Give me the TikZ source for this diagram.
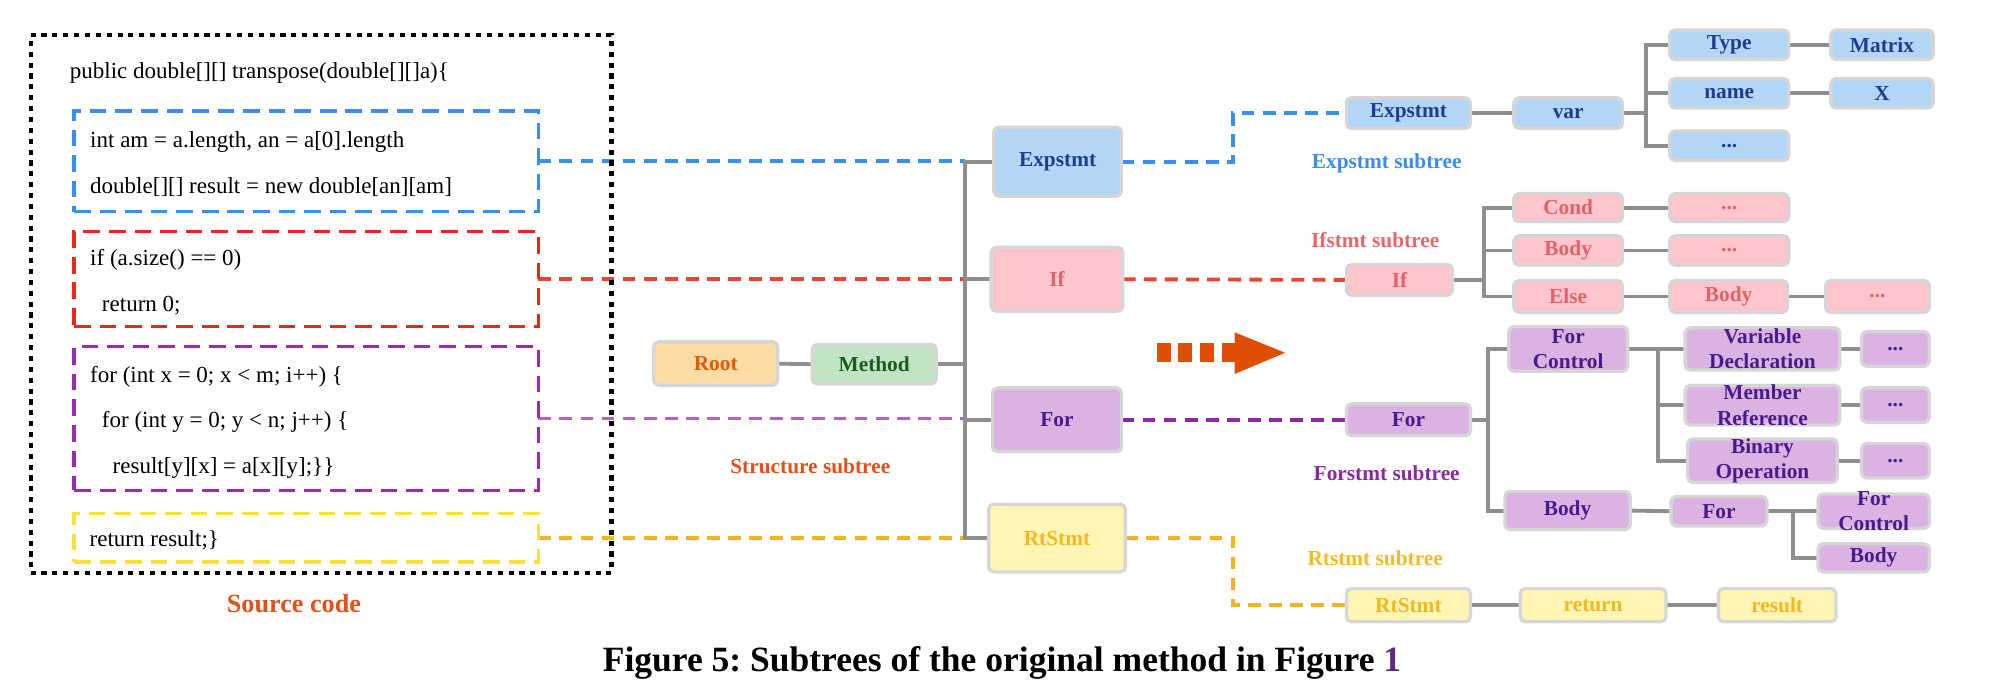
\documentclass[tikz,border=0pt]{standalone}
\usepackage{fontspec}
\setmainfont{Liberation Serif}
\frenchspacing
\pgfdeclarelayer{bg}
\pgfsetlayers{bg,main}
\definecolor{blueF}{HTML}{B3D6F7}
\definecolor{blueT}{HTML}{1F3D8F}
\definecolor{pinkF}{HTML}{FFC5CC}
\definecolor{pinkT}{HTML}{E0636A}
\definecolor{purF}{HTML}{DBB3E3}
\definecolor{purT}{HTML}{4A1A8A}
\definecolor{yelF}{HTML}{FFF5B5}
\definecolor{yelT}{HTML}{F5B820}
\definecolor{rootF}{HTML}{FFDBA6}
\definecolor{rootT}{HTML}{E35A05}
\definecolor{methF}{HTML}{C2E3C4}
\definecolor{methT}{HTML}{1E5A23}
\definecolor{bordGray}{HTML}{D6D6D6}
\definecolor{lineGray}{HTML}{8E8E8E}
\definecolor{codeBlue}{HTML}{3A8EEA}
\definecolor{codeRed}{HTML}{F0261A}
\definecolor{codePur}{HTML}{9A2DAC}
\definecolor{codeYel}{HTML}{F6E33A}
\definecolor{connRed}{HTML}{EA4530}
\definecolor{connPurL}{HTML}{B462C6}
\definecolor{connPurR}{HTML}{8E27A6}
\definecolor{connYel}{HTML}{F4B420}
\definecolor{arrowC}{HTML}{E04E05}
\definecolor{srcC}{HTML}{E4501A}
\definecolor{subBlue}{HTML}{3A8EEA}
\definecolor{subRed}{HTML}{E8676B}
\definecolor{subPur}{HTML}{8E27A6}
\definecolor{subYel}{HTML}{F6BA23}
\definecolor{capPur}{HTML}{5C2A7E}
\newcommand\nodefnt{\fontsize{16.7}{20}\selectfont\bfseries}
\newcommand\codefnt{\fontsize{18}{21}\selectfont}
\newcommand\srcfnt{\fontsize{20.5}{24}\selectfont\bfseries}
\newcommand\capfnt{\fontsize{27.8}{32}\selectfont\bfseries\frenchspacing}
\tikzset{
  tn/.style={draw=bordGray, line width=2.6pt, rounded corners=4pt, inner sep=0pt, outer sep=0pt, align=center, font=\nodefnt},
  bluen/.style={tn, fill=blueF, text=blueT},
  pinkn/.style={tn, fill=pinkF, text=pinkT},
  purn/.style={tn, fill=purF, text=purT},
  yeln/.style={tn, fill=yelF, text=yelT},
  rootn/.style={tn, fill=rootF, text=rootT},
  methn/.style={tn, fill=methF, text=methT},
  ntext/.style={inner sep=0pt, align=center, font=\nodefnt},
  gl/.style={draw=lineGray, line width=3pt},
  cdash/.style={line width=3pt, dash pattern=on 10pt off 6.5pt},
  cbox/.style={draw=#1, line width=2.6pt, dash pattern=on 13pt off 7pt, inner sep=0pt, outer sep=0pt},
  codet/.style={anchor=west, inner sep=0pt, font=\codefnt},
  lbl/.style={inner sep=0pt, font=\nodefnt},
}
\begin{document}
\begin{tikzpicture}[x=1pt, y=-1pt]
\useasboundingbox (0,0) rectangle (1568,543);
% source code
\node[draw=black, line width=3.2pt, dash pattern=on 4pt off 4.5pt, inner sep=0pt, outer sep=0pt, minimum width=454.5, minimum height=421] (src) at (251.2,238) {};
\node[codet] (c0) at (54.5,57) {public double[][] transpose(double[][]a)\{};
\node[cbox=codeBlue, minimum width=363.2, minimum height=78.9] (cbb) at (239.6,126.25) {};
\node[codet] (c1) at (70.4,111) {int am = a.length, an = a[0].length};
\node[codet] (c2) at (70.4,146) {double[][] result = new double[an][am]};
\node[cbox=codeRed, minimum width=363.2, minimum height=73.9] (cbr) at (239.6,218.25) {};
\node[codet] (c3) at (70.4,203.5) {if (a.size() == 0)};
\node[codet] (c4) at (79.6,239) {return 0;};
\node[cbox=codePur, minimum width=363.2, minimum height=112.4] (cbp) at (239.6,327.5) {};
\node[codet] (c5) at (70.4,295) {for (int x = 0; x < m; i++) \{};
\node[codet] (c6) at (79.6,330) {for (int y = 0; y < n; j++) \{};
\node[codet] (c7) at (88,366) {result[y][x] = a[x][y];\}\}};
\node[cbox=codeYel, minimum width=363.2, minimum height=37.9] (cby) at (239.6,420.75) {};
\node[codet] (c8) at (70,422.5) {return result;\}};
\node[inner sep=0pt, font=\srcfnt, text=srcC] (srclbl) at (230,472) {Source code};
% structure subtree
\node[rootn, minimum width=97, minimum height=34] (root) at (560,284.5) {Root};
\node[methn, minimum width=97, minimum height=31] (meth) at (684,285) {Method};
\node[bluen, minimum width=100, minimum height=54] (ex) at (827.5,126.5) {Expstmt};
\node[pinkn, minimum width=103, minimum height=50] (ifc) at (827,218.5) {If};
\node[purn, minimum width=101, minimum height=50] (forc) at (827,328.5) {For};
\node[yeln, minimum width=107, minimum height=53] (rtc) at (827,421) {RtStmt};
\node[lbl, text=srcC] (stl) at (634,365) {Structure subtree};
\coordinate (tk) at (755,0);
\coordinate (jx) at (965,0);
% arrow
\fill[arrowC] (905,268.5) rectangle (916,283);
\fill[arrowC] (922,268.5) rectangle (933,283);
\fill[arrowC] (939,268.5) rectangle (950,283);
\fill[arrowC] (956,268.5) rectangle (968,283);
\fill[arrowC] (966,260) -- (1005.5,276) -- (966,292.6) -- cycle;
% Expstmt subtree
\node[bluen, minimum width=97, minimum height=24] (e1) at (1102,88.5) {Expstmt};
\node[bluen, minimum width=85, minimum height=24] (var) at (1227,88.5) {var};
\node[bluen, minimum width=93, minimum height=23] (type) at (1353,35) {Type};
\node[bluen, minimum width=80, minimum height=23] (matrix) at (1472.5,35) {Matrix};
\node[bluen, minimum width=93, minimum height=23] (name) at (1353,73) {name};
\node[bluen, minimum width=80, minimum height=23] (xx) at (1472.5,73) {X};
\node[bluen, minimum width=93, minimum height=23] (edots) at (1353,114) {...};
\node[lbl, text=subBlue] (exl) at (1085,128) {Expstmt subtree};
\coordinate (vb) at (1288,0);
% Ifstmt subtree
\node[pinkn, minimum width=83, minimum height=24] (if1) at (1095,219) {If};
\node[pinkn, minimum width=85, minimum height=22] (cond) at (1227,162.5) {Cond};
\node[pinkn, minimum width=93, minimum height=22] (cdots) at (1353,162.5) {...};
\node[pinkn, minimum width=85, minimum height=23] (ibody) at (1227,196) {Body};
\node[pinkn, minimum width=93, minimum height=23] (bdots) at (1353,196) {...};
\node[pinkn, minimum width=85, minimum height=25] (else) at (1227,232) {Else};
\node[pinkn, minimum width=92, minimum height=25] (ebody) at (1352.5,232) {Body};
\node[pinkn, minimum width=81, minimum height=25] (edots2) at (1469,232) {...};
\node[lbl, text=subRed] (ifl) at (1076,188) {Ifstmt subtree};
\coordinate (ib) at (1161,0);
% Forstmt subtree
\node[purn, minimum width=97, minimum height=25] (for1) at (1102,328.5) {For};
\node[purn, minimum width=93, minimum height=35] (fc) at (1227,273) {};
\node[ntext, text=purT] (fct) at (fc) {For\\Control};
\node[purn, minimum width=98, minimum height=30] (fbody) at (1226.5,399.5) {Body};
\node[purn, minimum width=121, minimum height=33] (vd) at (1379,273) {};
\node[ntext, text=purT] (vdt) at (vd) {Variable\\Declaration};
\node[purn, minimum width=121, minimum height=31] (mr) at (1379,317) {};
\node[ntext, text=purT] (mrt) at (mr) {Member\\Reference};
\node[purn, minimum width=117, minimum height=34] (bo) at (1379,360.5) {};
\node[ntext, text=purT] (bot) at (bo) {Binary\\Operation};
\node[purn, minimum width=53, minimum height=27] (d1) at (1483,273) {...};
\node[purn, minimum width=53, minimum height=27] (d2) at (1483,317) {...};
\node[purn, minimum width=53, minimum height=27] (d3) at (1483,360.5) {...};
\node[purn, minimum width=75, minimum height=23] (for2) at (1345,400) {For};
\node[purn, minimum width=87, minimum height=27] (fc2) at (1466,400) {};
\node[ntext, text=purT] (fc2t) at (fc2) {For\\Control};
\node[purn, minimum width=87, minimum height=22] (body3) at (1466,436.5) {Body};
\node[lbl, text=subPur] (forl) at (1085,370) {Forstmt subtree};
\coordinate (fb) at (1164,0);
\coordinate (cb2) at (1297,0);
\coordinate (f2b) at (1403,0);
% Rtstmt subtree
\node[yeln, minimum width=97, minimum height=26] (rt1) at (1102,473.5) {RtStmt};
\node[yeln, minimum width=114, minimum height=26] (ret) at (1246.5,473.5) {return};
\node[yeln, minimum width=92, minimum height=26] (res) at (1390.5,473.5) {result};
\node[lbl, text=subYel] (rtl) at (1076,437) {Rtstmt subtree};
% caption
\node[inner sep=0pt, font=\capfnt] (cap) at (784,519) {Figure 5: Subtrees of the original method in Figure \textcolor{capPur}{1}};
% connectors
\begin{pgfonlayer}{bg}
\draw[cdash, draw=codeBlue] (cbb.east) -- (cbb.east -| tk);
\draw[cdash, draw=connRed] (cbr.east) -- (cbr.east -| tk);
\draw[cdash, draw=connPurL] (cbp.east) -- (cbp.east -| tk);
\draw[cdash, draw=connYel] (cby.east) -- (cby.east -| tk);
\draw[gl] (ex.west) -- (ex.west -| tk) -- (rtc.west -| tk) -- (rtc.west);
\draw[gl] (ifc.west) -- (ifc.west -| tk);
\draw[gl] (forc.west) -- (forc.west -| tk);
\draw[gl] (meth.east) -- (meth.east -| tk);
\draw[gl] (root.east) -- (meth.west);
\draw[cdash, draw=codeBlue] (ex.east) -- (ex.east -| jx) |- (e1.west);
\draw[cdash, draw=connRed] (ifc.east) -- (if1.west);
\draw[cdash, draw=connPurR] (forc.east) -- (for1.west);
\draw[cdash, draw=connYel] (rtc.east) -- (rtc.east -| jx) |- (rt1.west);
% expstmt tree
\draw[gl] (e1.east) -- (var.west);
\draw[gl] (var.east) -- (var.east -| vb);
\draw[gl] (type.west) -- (type.west -| vb) -- (edots.west -| vb) -- (edots.west);
\draw[gl] (name.west) -- (name.west -| vb);
\draw[gl] (type.east) -- (matrix.west);
\draw[gl] (name.east) -- (xx.west);
% if tree
\draw[gl] (if1.east) -- (if1.east -| ib);
\draw[gl] (cond.west) -- (cond.west -| ib) -- (else.west -| ib) -- (else.west);
\draw[gl] (ibody.west) -- (ibody.west -| ib);
\draw[gl] (cond.east) -- (cdots.west);
\draw[gl] (ibody.east) -- (bdots.west);
\draw[gl] (else.east) -- (ebody.west);
\draw[gl] (ebody.east) -- (edots2.west);
% for tree
\draw[gl] (for1.east) -- (for1.east -| fb);
\draw[gl] (fc.west) -- (fc.west -| fb) -- (fbody.west -| fb) -- (fbody.west);
\draw[gl] (fc.east) -- (fc.east -| cb2);
\draw[gl] (vd.west) -- (vd.west -| cb2) -- (bo.west -| cb2) -- (bo.west);
\draw[gl] (mr.west) -- (mr.west -| cb2);
\draw[gl] (vd.east) -- (d1.west);
\draw[gl] (mr.east) -- (d2.west);
\draw[gl] (bo.east) -- (d3.west);
\draw[gl] (fbody.east) -- (for2.west);
\draw[gl] (for2.east) -- (for2.east -| f2b);
\draw[gl] (fc2.west) -- (fc2.west -| f2b) -- (body3.west -| f2b) -- (body3.west);
% rt tree
\draw[gl] (rt1.east) -- (ret.west);
\draw[gl] (ret.east) -- (res.west);
\end{pgfonlayer}
\end{tikzpicture}
\end{document}
